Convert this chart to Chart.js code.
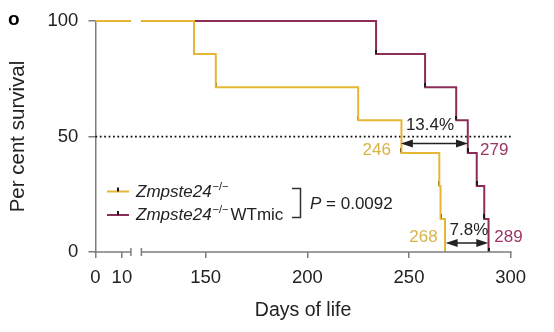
<!DOCTYPE html>
<html lang="en">
<head>
<meta charset="UTF-8">
<title>Survival - Zmpste24</title>
<script src="https://cdn.jsdelivr.net/npm/chart.js@4.4.1/dist/chart.umd.min.js"></script>
<style>
    html, body { margin: 0; padding: 0; background: #fff; }
    #wrap { width: 554px; height: 332px; }
</style>
</head>
<body>
<div id="wrap"><canvas id="km" width="554" height="332"></canvas></div>
<script>
    // Kaplan-Meier events (days) and survival after each event (%)
    const yellowDays = [144.3, 155, 225, 246.3, 264.9, 265.5, 267.7];
    const yellowSurv = [85.7, 71.4, 57.1, 42.9, 28.6, 14.3, 0];
    const purpleDays = [233.8, 257.9, 273.2, 278.9, 283.3, 287, 289.1];
    const purpleSurv = [85.7, 71.4, 57.1, 42.9, 28.6, 14.3, 0];

    const xTickDays = [0, 10, 150, 200, 250, 300];
    const xTickLabels = ['0', '10', '150', '200', '250', '300'];
    const yTicks = [0, 50, 100];

    // median / last-death comparison
    const medianDays = [246, 279];
    const medianText = '13.4%';
    const lastDays = [268, 289];
    const lastText = '7.8%';
    const pValue = 'P = 0.0092';

    const YELLOW = '#e6b734';
    const YELLOW_TXT = '#d9b347';
    const PURPLE = '#8b2d57';
    const PURPLE_TXT = '#9a3763';
    const AXIS = '#7d7d7d';
    const TXT = '#222';
    const FONT = '"Liberation Sans", Arial, sans-serif';

    // broken x axis: 0..13.4 stretched, then 118.4..300
    const leftEnd = 13.4, rightStart = 118.4, leftStretch = 1.303, gapU = 5.14;
    function u(d) {
        if (d <= leftEnd) return d * leftStretch;
        return d - rightStart + leftEnd * leftStretch + gapU;
    }

    function kmPoints(days, surv) {
        const pts = [{x: u(0), y: 100}, {x: u(leftEnd), y: 100},
            {x: (u(leftEnd) + u(rightStart)) / 2, y: null}, {x: u(rightStart), y: 100}];
        days.forEach((d, i) => pts.push({x: u(d), y: surv[i]}));
        return pts;
    }

    function eventPoints(days, surv) {
        return days.map((d, i) => ({x: u(d), y: surv[i]}));
    }

    // small censor-style tick sitting on top of each step corner
    const tick = document.createElement('canvas');
    tick.width = 2;
    tick.height = 9;
    const tctx = tick.getContext('2d');
    tctx.fillStyle = '#1a1a1a';
    tctx.fillRect(0, 0, 2, 4);

    function dblArrow(ctx, x1, x2, yy) {
        const hl = 12, hw = 4;
        ctx.strokeStyle = '#222';
        ctx.fillStyle = '#222';
        ctx.lineWidth = 1.4;
        ctx.beginPath();
        ctx.moveTo(x1 + 4, yy);
        ctx.lineTo(x2 - 4, yy);
        ctx.stroke();
        ctx.beginPath();
        ctx.moveTo(x1, yy);
        ctx.lineTo(x1 + hl, yy - hw);
        ctx.lineTo(x1 + hl, yy + hw);
        ctx.closePath();
        ctx.fill();
        ctx.beginPath();
        ctx.moveTo(x2, yy);
        ctx.lineTo(x2 - hl, yy - hw);
        ctx.lineTo(x2 - hl, yy + hw);
        ctx.closePath();
        ctx.fill();
    }

    function legendRow(ctx, color, yy, extra) {
        ctx.strokeStyle = color;
        ctx.lineWidth = 2;
        ctx.beginPath();
        ctx.moveTo(107, yy);
        ctx.lineTo(129, yy);
        ctx.stroke();
        ctx.fillStyle = '#1a1a1a';
        ctx.fillRect(117, yy - 4, 2, 4);
        ctx.fillStyle = TXT;
        ctx.textAlign = 'left';
        ctx.textBaseline = 'alphabetic';
        ctx.font = 'italic 17px ' + FONT;
        ctx.fillText('Zmpste24', 136, yy + 5);
        let w = ctx.measureText('Zmpste24').width;
        ctx.font = '11px ' + FONT;
        ctx.fillText('\u2212/\u2212', 136 + w + 1, yy - 2);
        let w2 = ctx.measureText('\u2212/\u2212').width;
        if (extra) {
            ctx.font = '17px ' + FONT;
            ctx.fillText(extra, 136 + w + w2 + 3, yy + 5);
        }
    }

    const overlay = {
        id: 'overlay',
        afterDraw(chart) {
            const {ctx, scales: {x, y}, chartArea} = chart;
            const px = d => x.getPixelForValue(u(d));
            const py = v => y.getPixelForValue(v);
            const b = chartArea.bottom;
            ctx.save();

            // broken x axis line
            ctx.strokeStyle = AXIS;
            ctx.lineWidth = 1.5;
            ctx.beginPath();
            ctx.moveTo(px(0) - 1, b);
            ctx.lineTo(px(leftEnd), b);
            ctx.moveTo(px(rightStart), b);
            ctx.lineTo(px(300) + 1, b);
            ctx.moveTo(px(leftEnd), b - 4);
            ctx.lineTo(px(leftEnd), b + 4);
            ctx.moveTo(px(rightStart), b - 4);
            ctx.lineTo(px(rightStart), b + 4);
            ctx.stroke();

            // panel letter
            ctx.fillStyle = '#000';
            ctx.font = 'bold 19px ' + FONT;
            ctx.textAlign = 'left';
            ctx.textBaseline = 'alphabetic';
            ctx.fillText('o', 8, 25);

            // arrows + labels
            const ya = py(50) + 7;
            dblArrow(ctx, px(medianDays[0]), px(medianDays[1]), ya);
            const yb = py(0) - 9;
            dblArrow(ctx, px(lastDays[0]), px(lastDays[1]), yb);

            ctx.font = '17px ' + FONT;
            ctx.fillStyle = TXT;
            ctx.textAlign = 'left';
            ctx.fillText(medianText, px(medianDays[0]) + 5, 130);
            ctx.fillText(lastText, px(lastDays[0]) + 4, 235);

            ctx.fillStyle = YELLOW_TXT;
            ctx.textAlign = 'right';
            ctx.fillText(String(medianDays[0]), px(medianDays[0]) - 10, 155);
            ctx.fillText(String(lastDays[0]), px(lastDays[0]) - 8, 242);
            ctx.fillStyle = PURPLE_TXT;
            ctx.textAlign = 'left';
            ctx.fillText(String(medianDays[1]), px(medianDays[1]) + 12, 155);
            ctx.fillText(String(lastDays[1]), px(lastDays[1]) + 6, 242);

            // legend
            legendRow(ctx, YELLOW, 191.5, null);
            legendRow(ctx, PURPLE, 215, 'WTmic');

            // bracket + P value
            ctx.strokeStyle = '#333';
            ctx.lineWidth = 1.5;
            ctx.beginPath();
            ctx.moveTo(292, 188.5);
            ctx.lineTo(300.5, 188.5);
            ctx.lineTo(300.5, 217.5);
            ctx.lineTo(292, 217.5);
            ctx.stroke();
            ctx.fillStyle = TXT;
            ctx.textAlign = 'left';
            ctx.font = 'italic 17px ' + FONT;
            ctx.fillText('P', 310, 209);
            const pw = ctx.measureText('P').width;
            ctx.font = '17px ' + FONT;
            ctx.fillText(pValue.slice(1), 310 + pw, 209);

            ctx.restore();
        }
    };

    const ctx = document.getElementById('km').getContext('2d');
    new Chart(ctx, {
        type: 'line',
        data: {
            datasets: [
                {
                    data: kmPoints(yellowDays, yellowSurv),
                    borderColor: YELLOW,
                    borderWidth: 2,
                    stepped: true,
                    pointRadius: 0,
                    spanGaps: false,
                    clip: 6
                },
                {
                    data: eventPoints(yellowDays, yellowSurv),
                    showLine: false,
                    pointStyle: tick,
                    pointRadius: 4,
                    clip: 6
                },
                {
                    data: eventPoints(purpleDays, purpleSurv),
                    showLine: false,
                    pointStyle: tick,
                    pointRadius: 4,
                    clip: 6
                },
                {
                    data: kmPoints(purpleDays, purpleSurv),
                    borderColor: PURPLE,
                    borderWidth: 2,
                    stepped: true,
                    pointRadius: 0,
                    spanGaps: false,
                    clip: 6
                },
                {
                    data: [{x: u(0), y: 50}, {x: u(300), y: 50}],
                    borderColor: '#111',
                    borderWidth: 1.8,
                    borderDash: [1.8, 2.6],
                    pointRadius: 0,
                    clip: 6
                }
            ]
        },
        options: {
            responsive: false,
            animation: false,
            events: [],
            layout: {padding: {left: 0, right: 43.3, top: 20.7, bottom: 0}},
            plugins: {legend: {display: false}, tooltip: {enabled: false}},
            scales: {
                x: {
                    type: 'linear',
                    min: 0,
                    max: u(300),
                    afterFit: s => { s.height = 80; },
                    afterBuildTicks: s => { s.ticks = xTickDays.map(d => ({value: u(d)})); },
                    border: {display: false},
                    grid: {drawOnChartArea: false, tickLength: 6, color: AXIS, lineWidth: 1.5},
                    ticks: {
                        callback: (v, i) => xTickLabels[i],
                        color: TXT,
                        padding: 9,
                        maxRotation: 0,
                        autoSkip: false,
                        font: {family: FONT, size: 18.5}
                    },
                    title: {
                        display: true,
                        text: 'Days of life',
                        color: TXT,
                        font: {family: FONT, size: 19.5},
                        padding: {top: 4, bottom: 9.5}
                    }
                },
                y: {
                    min: 0,
                    max: 100,
                    afterFit: s => { s.width = 95.4; },
                    afterBuildTicks: s => { s.ticks = yTicks.map(v => ({value: v})); },
                    border: {display: true, color: AXIS, width: 1.5},
                    grid: {drawOnChartArea: false, tickLength: 7, color: AXIS, lineWidth: 1.5},
                    ticks: {
                        color: TXT,
                        padding: 10,
                        font: {family: FONT, size: 18.5}
                    },
                    title: {
                        display: true,
                        text: 'Per cent survival',
                        color: TXT,
                        font: {family: FONT, size: 20.5},
                        padding: {top: 6, bottom: 0}
                    }
                }
            }
        },
        plugins: [overlay]
    });
</script>
</body>
</html>
